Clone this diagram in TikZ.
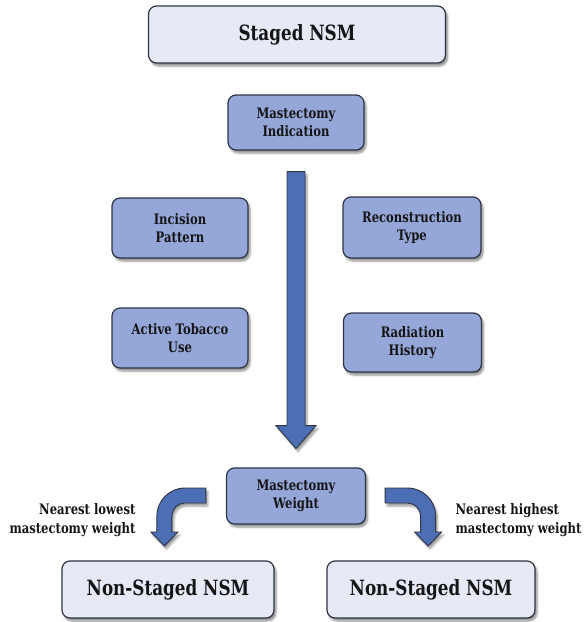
\documentclass[tikz,border=0pt]{standalone}
\usepackage{fontspec}
\setmainfont{DejaVu Serif}[FakeStretch=0.8]
\usetikzlibrary{positioning,calc,shadows.blur}
\definecolor{boxblue}{HTML}{95A7D9}
\definecolor{boxpale}{HTML}{E6E9F6}
\definecolor{arrblue}{HTML}{4C6EB5}
\definecolor{edgedark}{HTML}{2E3444}
\definecolor{txtdark}{HTML}{151515}
\tikzset{
mybox/.style={
  rectangle,
  rounded corners=8pt,
  draw=edgedark,
  line width=1.2pt,
  fill=boxblue,
  text=txtdark,
  align=center,
  font=\bfseries\fontsize{14.5}{17.5}\selectfont,
  blur shadow={shadow xshift=2pt,shadow yshift=-3pt,shadow blur steps=6,shadow blur radius=2pt,shadow opacity=45}
  },
mybig/.style={
  mybox,
  fill=boxpale,
  font=\bfseries\fontsize{21}{26}\selectfont
  },
myarrow/.style={
  draw=edgedark,
  line width=0.9pt,
  fill=arrblue,
  line join=miter,
  blur shadow={shadow xshift=2pt,shadow yshift=-3pt,shadow blur steps=6,shadow blur radius=2pt,shadow opacity=40}
  },
mylbl/.style={
  text=txtdark,
  font=\bfseries\fontsize{14.5}{19}\selectfont
  }
}

\begin{document}
\begin{tikzpicture}[x=1pt,y=1pt]
\useasboundingbox (0,0) rectangle (584,-622);

\node[mybig,minimum width=297pt,minimum height=57pt] (staged) at (297,-34.5) {Staged NSM};
\node[mybox,minimum width=136pt,minimum height=55pt] (ind) at (296,-122.5) {Mastectomy\\Indication};

\node[mybox,minimum width=136pt,minimum height=60pt] (inc) at (180,-228) {Incision\\Pattern};
\node[mybox,minimum width=138pt,minimum height=61pt] (rec) at (412,-227.5) {Reconstruction\\Type};
\node[mybox,minimum width=136pt,minimum height=60pt] (tob) at (180,-338) {Active Tobacco\\Use};
\node[mybox,minimum width=138pt,minimum height=59pt] (rad) at (412.5,-342.5) {Radiation\\History};

\node[mybox,minimum width=139pt,minimum height=56pt] (wgt) at (296,-496) {Mastectomy\\Weight};

\node[mybig,minimum width=212pt,minimum height=57pt] (lowns) at (168,-589.5) {Non-Staged NSM};
\node[mybig,minimum width=208pt,minimum height=57pt] (highns) at (431,-589.5) {Non-Staged NSM};

\node[mylbl,anchor=east,align=right] (lowlbl) at (139,-520) {Nearest lowest\\mastectomy weight};
\node[mylbl,anchor=west,align=left] (highlbl) at (452,-520) {Nearest highest\\mastectomy weight};

\coordinate (mtop) at ([yshift=-21pt]ind.south);
\coordinate (lstart) at ([xshift=-20pt,yshift=8pt]wgt.west);
\coordinate (rstart) at ([xshift=19pt,yshift=8pt]wgt.east);

\draw[myarrow] ([xshift=-9pt]mtop) -- ++(18,0) -- ++(0,-254) -- ++(11,0)
  -- ++(-20,-23) -- ++(-20,23) -- ++(11,0) -- cycle;

\draw[myarrow] (lstart) -- ++(-21,0) arc[start angle=90,end angle=180,radius=28]
  -- ++(0,-16) -- ++(-6,0) -- ++(13.5,-14) -- ++(13.5,14) -- ++(-6,0)
  -- ++(0,16) arc[start angle=180,end angle=90,radius=13] -- ++(21,0) -- cycle;

\draw[myarrow] (rstart) -- ++(22.5,0) arc[start angle=90,end angle=0,radius=28]
  -- ++(0,-16) -- ++(6,0) -- ++(-13.5,-14) -- ++(-13.5,14) -- ++(6,0)
  -- ++(0,16) arc[start angle=0,end angle=90,radius=13] -- ++(-22.5,0) -- cycle;

\end{tikzpicture}
\end{document}
